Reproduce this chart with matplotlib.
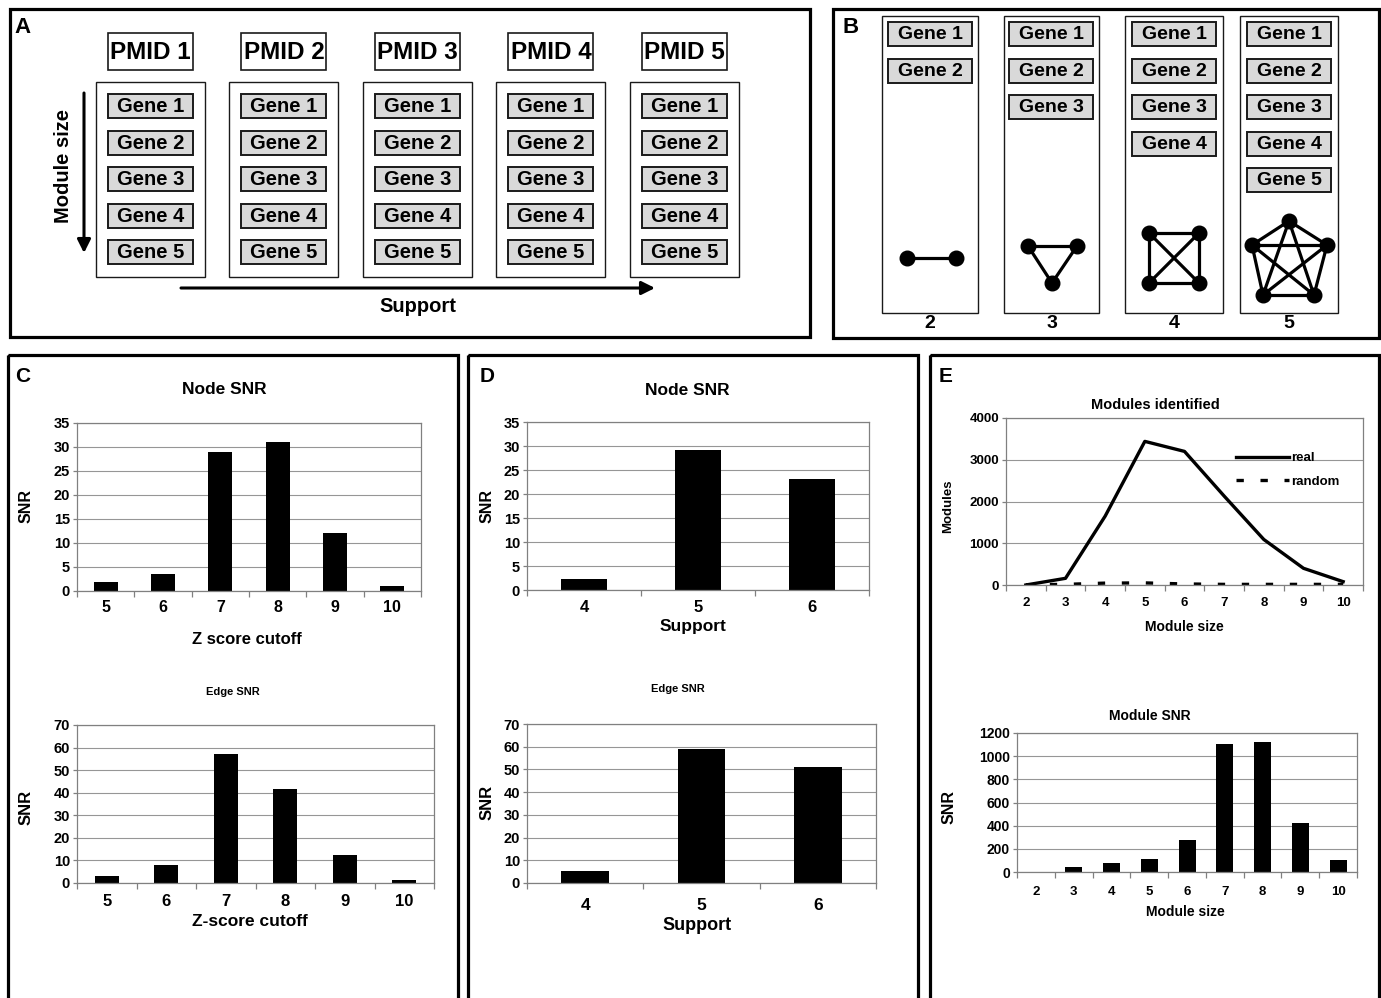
import numpy as np
import matplotlib
matplotlib.use("Agg")
import matplotlib.pyplot as plt
from matplotlib.patches import Rectangle

plt.rcParams['font.family'] = ['Liberation Sans', 'DejaVu Sans']
plt.rcParams['font.weight'] = 'bold'

# ---------------- data ----------------
pmids = ["PMID 1", "PMID 2", "PMID 3", "PMID 4", "PMID 5"]
genes = ["Gene 1", "Gene 2", "Gene 3", "Gene 4", "Gene 5"]
module_sizes_b = [2, 3, 4, 5]

z_cutoffs = ["5", "6", "7", "8", "9", "10"]
node_snr_z = [1.9, 3.5, 29.0, 31.0, 12.1, 1.0]
edge_snr_z = [3.2, 7.8, 57.3, 41.8, 12.2, 1.2]

support_levels = ["4", "5", "6"]
node_snr_support = [2.2, 29.2, 23.1]
edge_snr_support = [5.3, 59.0, 51.2]

module_size_cats = ["2", "3", "4", "5", "6", "7", "8", "9", "10"]
modules_real = [0, 160, 1650, 3440, 3200, 2130, 1090, 400, 80]
modules_random = [5, 15, 45, 50, 25, 15, 15, 15, 15]
module_snr = [0, 43, 81, 113, 272, 1105, 1125, 419, 101]

# ---------------- figure ----------------
W, H = 1381, 998
fig = plt.figure(figsize=(W / 100, H / 100), dpi=100)
fig.patch.set_facecolor('white')

ov = fig.add_axes([0, 0, 1, 1], zorder=0)
ov.set_xlim(0, W)
ov.set_ylim(H, 0)
ov.axis('off')
ov.patch.set_visible(False)

FRAME_LW = 2.3
GRAY_FILL = '#d9d9d9'


def frame(x0, y0, x1, y1, lw=FRAME_LW):
    ov.add_patch(Rectangle((x0, y0), x1 - x0, y1 - y0, fill=False,
                           edgecolor='black', lw=lw, zorder=1))


def gene_box(cx, top, text, w=85, h=24, fs=14):
    ov.add_patch(Rectangle((cx - w / 2, top), w, h, facecolor=GRAY_FILL,
                           edgecolor='#1a1a1a', lw=1.4, zorder=2))
    ov.text(cx, top + h / 2 + 0.5, text, ha='center', va='center',
            fontsize=fs, fontweight='bold', zorder=3)


# ---------------- Panel A ----------------
frame(10, 9, 810, 337)
ov.text(23, 27, "A", fontsize=16, fontweight='bold', ha='center', va='center')
for i, p in enumerate(pmids):
    cx = 150.5 + i * 133.5
    ov.add_patch(Rectangle((cx - 42.5, 33), 85, 37, facecolor='white',
                           edgecolor='#1a1a1a', lw=1.2, zorder=2))
    ov.text(cx, 52, p, ha='center', va='center', fontsize=17.5,
            fontweight='bold', zorder=3)
    ov.add_patch(Rectangle((cx - 54.5, 82), 109, 195, fill=False,
                           edgecolor='#1a1a1a', lw=1.0, zorder=2))
    for j, g in enumerate(genes):
        gene_box(cx, 94 + j * 36.5, g, fs=14.5)

ov.annotate('', xy=(84, 253), xytext=(84, 93),
            arrowprops=dict(arrowstyle='-|>', lw=2.2, color='black',
                            mutation_scale=20, shrinkA=0, shrinkB=0))
ov.text(64, 166, "Module size", rotation=90, ha='center', va='center',
        fontsize=14.5, fontweight='bold')
ov.annotate('', xy=(655, 288), xytext=(181, 288),
            arrowprops=dict(arrowstyle='-|>', lw=2.2, color='black',
                            mutation_scale=20, shrinkA=0, shrinkB=0))
ov.text(418, 306, "Support", ha='center', va='center', fontsize=14.5,
        fontweight='bold')

# ---------------- Panel B ----------------
frame(833, 9, 1379, 338)
ov.text(851, 27, "B", fontsize=16, fontweight='bold', ha='center', va='center')
col_left = [882, 1004, 1125, 1240]
col_right = [978, 1099, 1223, 1338]
node_pos = {
    2: [(907, 258), (956, 258)],
    3: [(1028, 246), (1077, 246), (1052, 283)],
    4: [(1149, 233), (1199, 233), (1199, 283), (1149, 283)],
    5: [(1289, 221), (1327, 245), (1314, 295), (1263, 295), (1252, 245)],
}
for k, n in enumerate(module_sizes_b):
    l, r = col_left[k], col_right[k]
    cx = (l + r) / 2
    ov.add_patch(Rectangle((l, 16), r - l, 297, fill=False,
                           edgecolor='#1a1a1a', lw=1.0, zorder=2))
    for j in range(n):
        gene_box(cx, 22 + j * 36.5, genes[j], w=84, fs=14)
    ov.text(cx, 324, str(n), ha='center', va='center', fontsize=14,
            fontweight='bold')
    pts = node_pos[n]
    for a in range(len(pts)):
        for b in range(a + 1, len(pts)):
            ov.plot([pts[a][0], pts[b][0]], [pts[a][1], pts[b][1]],
                    color='black', lw=2.3, zorder=3, solid_capstyle='round')
    ov.plot([p[0] for p in pts], [p[1] for p in pts], 'o', color='black',
            ms=10.5, zorder=4)

# ---------------- Panels C, D, E frames ----------------
frame(8, 355, 458, 1012)
frame(468, 355, 918, 1012)
frame(930, 355, 1379, 1012)
ov.text(23, 377, "C", fontsize=15, fontweight='bold', ha='center', va='center')
ov.text(487, 377, "D", fontsize=15, fontweight='bold', ha='center', va='center')
ov.text(946, 377, "E", fontsize=15, fontweight='bold', ha='center', va='center')

SPINE = '#808080'
GRID = '#969696'


def make_ax(l, t, r, b):
    ax = fig.add_axes([l / W, 1 - b / H, (r - l) / W, (b - t) / H], zorder=2)
    ax._px = (l, t, r, b)
    return ax


def fx(ax, px):
    l, t, r, b = ax._px
    return (px - l) / (r - l)


def fy(ax, py):
    l, t, r, b = ax._px
    return (b - py) / (b - t)


def style_ax(ax, cats, ymax, ystep, ytfs, xtfs, xt_y,
             title, t_xy, t_fs, xlabel, xl_xy, xl_fs, ylabel, yl_xy, yl_fs):
    n = len(cats)
    ax.set_xlim(-0.5, n - 0.5)
    ax.set_ylim(0, ymax)
    ax.set_yticks(np.arange(0, ymax + ystep / 2, ystep))
    ax.yaxis.grid(True, color=GRID, lw=0.8)
    ax.set_axisbelow(True)
    for s in ax.spines.values():
        s.set_color(SPINE)
        s.set_linewidth(0.9)
    ax.set_xticks(np.arange(-0.5, n, 1.0))
    ax.set_xticklabels([])
    ax.tick_params(axis='x', which='major', length=4, color=SPINE, width=0.9)
    ax.set_xticks(np.arange(n), minor=True)
    ax.set_xticklabels(cats, minor=True, fontsize=xtfs, fontweight='bold')
    l, t, r, b = ax._px
    pad_px = (xt_y - b) - xtfs * 1.39 * 0.5
    ax.tick_params(axis='x', which='minor', length=0, pad=max(pad_px, 0) / 1.39)
    ax.tick_params(axis='y', length=3, color=SPINE, width=0.9, labelsize=ytfs,
                   pad=2)
    for lab in ax.get_yticklabels():
        lab.set_fontweight('bold')
    ax.set_title(title, fontsize=t_fs, fontweight='bold',
                 x=fx(ax, t_xy[0]), y=fy(ax, t_xy[1]), va='center', pad=0)
    ax.set_xlabel(xlabel, fontsize=xl_fs, fontweight='bold')
    ax.xaxis.set_label_coords(fx(ax, xl_xy[0]), fy(ax, xl_xy[1]))
    ax.xaxis.label.set_va('center')
    ax.set_ylabel(ylabel, fontsize=yl_fs, fontweight='bold')
    ax.yaxis.set_label_coords(fx(ax, yl_xy[0]), fy(ax, yl_xy[1]))
    ax.yaxis.label.set_va('center')


# C top: Node SNR vs Z score cutoff
ax = make_ax(77, 423, 421, 591)
ax.bar(np.arange(len(z_cutoffs)), node_snr_z, width=0.42, color='black')
style_ax(ax, z_cutoffs, 35, 5, 10.5, 11.5, 608,
         "Node SNR", (224, 390), 12.5, "Z score cutoff", (247, 639), 12,
         "SNR", (26, 506), 11.5)

# C bottom: Edge SNR vs Z-score cutoff
ax = make_ax(77, 725, 434, 883)
ax.bar(np.arange(len(z_cutoffs)), edge_snr_z, width=0.41, color='black')
style_ax(ax, z_cutoffs, 70, 10, 10.5, 12, 902,
         "Edge SNR", (233, 692), 8, "Z-score cutoff", (250, 922), 12.5,
         "SNR", (26, 807), 12)

# D top: Node SNR vs Support
ax = make_ax(527, 422, 869, 590)
ax.bar(np.arange(len(support_levels)), node_snr_support, width=0.41,
       color='black')
style_ax(ax, support_levels, 35, 5, 10.5, 12, 608,
         "Node SNR", (687, 390), 12.5, "Support", (693, 627), 12.5,
         "SNR", (487, 506), 11.5)

# D bottom: Edge SNR vs Support
ax = make_ax(527, 724, 876, 883)
ax.bar(np.arange(len(support_levels)), edge_snr_support, width=0.41,
       color='black')
style_ax(ax, support_levels, 70, 10, 10.5, 12.5, 907,
         "Edge SNR", (678, 689), 8, "Support", (697, 925), 13,
         "SNR", (487, 802), 12)

# E top: Modules identified
ax = make_ax(1006, 418, 1363, 585)
x = np.arange(len(module_size_cats))
ax.plot(x, modules_real, color='black', lw=2.4, label='real')
ax.plot(x, modules_random, color='black', lw=2.4,
        linestyle=(0, (2.2, 5.0)), label='random')
style_ax(ax, module_size_cats, 4000, 1000, 9.5, 9.5, 604,
         "Modules identified", (1155, 405), 10.5, "Module size", (1184, 627), 10,
         "Modules", (948, 506), 9.5)
leg = ax.legend(loc='upper left', bbox_to_anchor=(fx(ax, 1236), fy(ax, 452)),
                frameon=False, fontsize=9.5, handlelength=4.0,
                handletextpad=0.15, labelspacing=0.85, borderaxespad=0,
                borderpad=0)

# E bottom: Module SNR
ax = make_ax(1017, 733, 1357, 872)
ax.bar(np.arange(len(module_size_cats)), module_snr, width=0.45,
       color='black')
style_ax(ax, module_size_cats, 1200, 200, 10, 9.5, 893,
         "Module SNR", (1150, 716), 10, "Module size", (1185, 912), 10,
         "SNR", (949, 807), 11.5)

fig.savefig("out.png", dpi=100, facecolor='white')
